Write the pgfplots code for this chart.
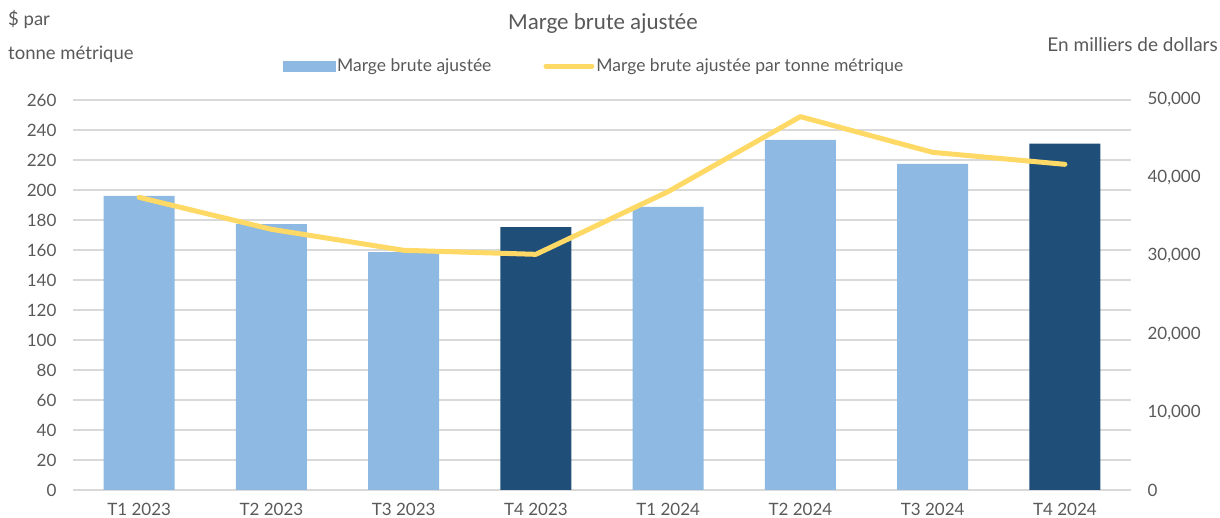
\documentclass[border=0pt]{standalone}
\usepackage{fontspec}
\setmainfont{Lato}
\newfontfamily\titlefont{Carlito}
\usepackage{pgfplots}
\pgfplotsset{compat=1.18}
\definecolor{lightbar}{HTML}{8DB9E2}
\definecolor{darkbar}{HTML}{1F4E79}
\definecolor{linecol}{HTML}{FFD966}
\definecolor{txt}{HTML}{595959}
\definecolor{gridc}{HTML}{D9D9D9}
\pgfplotsset{
  base/.style={scale only axis, width=1058pt, height=390pt,
    xmin=-0.5, xmax=7.5, ymin=0, at={(0pt,0pt)}, anchor=south west,
    /pgf/number format/assume math mode=true,
    tick style={draw=none}},
  tickfont/.style={font=\fontsize{17}{20}\selectfont, text=txt}
}
\begin{document}
\begin{tikzpicture}
\path[use as bounding box] (-73pt,-28pt) rectangle (1147pt,490pt);
% left axis with grid and category labels
\begin{axis}[base, ymax=260, ytick={0,20,...,260},
  ymajorgrids, major grid style={gridc, line width=1.5pt},
  axis line style={draw=none},
  xtick={0,...,7},
  xticklabels={T1 2023,T2 2023,T3 2023,T4 2023,T1 2024,T2 2024,T3 2024,T4 2024},
  x tick label style={tickfont, anchor=base, yshift=-26pt},
  y tick label style={tickfont, xshift=-13pt}]
\addplot[draw=none] coordinates {(0,0)};
\end{axis}
% right axis with bars
\begin{axis}[base, ymax=50000, axis y line*=right, axis x line=none,
  y axis line style={draw=none},
  ytick={0,10000,...,50000}, scaled y ticks=false,
  yticklabel style={tickfont, anchor=west, xshift=13pt, /pgf/number format/1000 sep={,}},
  ybar, bar width=71pt]
\addplot[fill=lightbar, draw=none, bar shift=0pt] coordinates {(0,37700) (1,34100) (2,30500) (4,36300) (5,44900) (6,41800)};
\addplot[fill=darkbar, draw=none, bar shift=0pt] coordinates {(3,33700) (7,44400)};
\end{axis}
% left axis with line and legend
\begin{axis}[base, ymax=260, hide axis,
  legend style={at={(0.4924,1.087)}, anchor=center, draw=none, fill=none,
    legend columns=2, font=\fontsize{17.5}{20}\selectfont, text=txt,
    /tikz/every even column/.append style={column sep=50pt}},
  legend cell align=left]
\addlegendimage{legend image code/.code={\fill[lightbar] (0pt,-5pt) rectangle (52pt,5pt);}}
\addlegendentry{Marge brute ajustée}
\addplot[linecol, line width=5pt, line cap=round, line join=round,
  legend image code/.code={\draw[linecol, line width=5pt, line cap=round] (6pt,0pt) -- (52pt,0pt);}]
  coordinates {(0,195.1) (1,173.8) (2,159.8) (3,157.1) (4,198.9) (5,248.9) (6,225.1) (7,217.1)};
\addlegendentry{Marge brute ajustée par tonne métrique}
\end{axis}
\node[text=txt, font=\titlefont\fontsize{23}{27}\selectfont] at (530pt,466pt) {Marge brute ajustée};
\node[text=txt, font=\fontsize{18.5}{22}\selectfont, anchor=west, inner sep=0pt] at (-65pt,470pt) {\$ par};
\node[text=txt, font=\fontsize{18.5}{22}\selectfont, anchor=west, inner sep=0pt] at (-65pt,436pt) {tonne métrique};
\node[text=txt, font=\fontsize{19}{22}\selectfont, anchor=east, inner sep=0pt] at (1145pt,445pt) {En milliers de dollars};
\end{tikzpicture}
\end{document}
